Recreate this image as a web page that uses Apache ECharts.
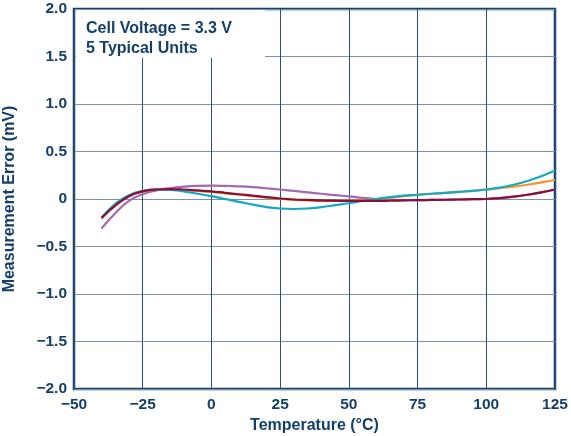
<!DOCTYPE html>
<html>
<head>
<meta charset="utf-8">
<script src="https://cdn.jsdelivr.net/npm/echarts@6/dist/echarts.min.js"></script>
<style>
  html, body { margin: 0; padding: 0; background: #fff; }
  #chart { width: 571px; height: 436px; }
</style>
</head>
<body>
<div id="chart"></div>
<script>
const temps = [-40, -35, -30, -25, -20, -15, -10, -5, 0, 5, 10, 15, 20, 25, 30, 35, 40, 45, 50, 55, 60, 65, 70, 75, 80, 85, 90, 95, 100, 105, 110, 115, 120, 125]

const unitPurple = [-0.31, -0.15, -0.02, 0.05, 0.09, 0.115, 0.13, 0.138, 0.14, 0.138, 0.133, 0.125, 0.113, 0.10, 0.085, 0.07, 0.055, 0.04, 0.028, 0.012, 0.0, -0.008, -0.012, -0.012, -0.01, -0.008, -0.005, -0.002, 0.0, 0.01, 0.025, 0.045, 0.07, 0.10]
const unitOrange = [-0.20, -0.07, 0.03, 0.08, 0.10, 0.10, 0.095, 0.085, 0.075, 0.06, 0.045, 0.03, 0.015, 0.0, -0.01, -0.015, -0.02, -0.02, -0.018, -0.012, 0.0, 0.015, 0.03, 0.045, 0.055, 0.065, 0.075, 0.085, 0.10, 0.115, 0.13, 0.15, 0.175, 0.20]
const unitCyan = [-0.20, -0.05, 0.04, 0.085, 0.10, 0.095, 0.08, 0.055, 0.03, 0.0, -0.03, -0.06, -0.085, -0.10, -0.105, -0.10, -0.085, -0.065, -0.045, -0.02, 0.0, 0.02, 0.035, 0.045, 0.055, 0.065, 0.075, 0.085, 0.10, 0.12, 0.15, 0.19, 0.24, 0.30]
const unitRed = [-0.20, -0.07, 0.03, 0.08, 0.10, 0.105, 0.10, 0.09, 0.08, 0.065, 0.05, 0.035, 0.02, 0.005, -0.005, -0.01, -0.015, -0.018, -0.02, -0.02, -0.02, -0.018, -0.015, -0.012, -0.01, -0.008, -0.005, -0.002, 0.0, 0.01, 0.025, 0.045, 0.07, 0.10]

const xTicks = [-50, -25, 0, 25, 50, 75, 100, 125]
const yTicks = [-2, -1.5, -1, -0.5, 0, 0.5, 1, 1.5, 2]
const noteLines = ['Cell Voltage = 3.3 V', '5 Typical Units']

const navy = '#143f6b'
const font = 'Liberation Sans, Arial, sans-serif'

function pairs(vals) {
  return temps.map((t, i) => [t, vals[i]])
}

function minus(s) {
  return String(s).replace('-', '\u2212')
}

function unit(name, vals, color) {
  return {
    name: name,
    type: 'line',
    data: pairs(vals),
    smooth: true,
    symbol: 'none',
    lineStyle: { color: color, width: 2.2 },
    itemStyle: { color: color }
  }
}

const chart = echarts.init(document.getElementById('chart'))

const option = {
  animation: false,
  backgroundColor: '#fff',
  grid: {
    left: 74, right: 16, top: 9, bottom: 47,
    outerBoundsMode: 'none',
    containLabel: false,
    show: true,
    backgroundColor: '#fff',
    borderColor: navy,
    borderWidth: 2.5
  },
  xAxis: {
    type: 'value',
    min: -50, max: 125, interval: 25,
    name: 'Temperature (°C)',
    nameLocation: 'middle',
    nameGap: 28,
    nameTextStyle: { color: navy, fontFamily: font, fontWeight: 'bold', fontSize: 16 },
    axisLine: { show: false },
    axisTick: { show: false },
    axisLabel: {
      color: navy, fontFamily: font, fontWeight: 'bold', fontSize: 15.5, margin: 8,
      formatter: v => xTicks.includes(v) ? minus(v) : ''
    },
    splitLine: { show: true, lineStyle: { color: '#2c5178', width: 1 } }
  },
  yAxis: {
    type: 'value',
    min: -2, max: 2, interval: 0.5,
    name: 'Measurement Error (mV)',
    nameLocation: 'middle',
    nameGap: 56,
    nameTextStyle: { color: navy, fontFamily: font, fontWeight: 'bold', fontSize: 16 },
    axisLine: { show: false },
    axisTick: { show: false },
    axisLabel: {
      color: navy, fontFamily: font, fontWeight: 'bold', fontSize: 15.5, margin: 7,
      formatter: v => yTicks.includes(v) ? minus(v === 0 ? '0' : v.toFixed(1)) : ''
    },
    splitLine: { show: true, lineStyle: { color: '#7893ad', width: 1 } }
  },
  graphic: [
    {
      type: 'rect',
      left: 76, top: 10,
      shape: { width: 189, height: 48 },
      style: { fill: '#fff' },
      z: 10
    },
    {
      type: 'text',
      left: 86, top: 19,
      style: {
        text: noteLines.join('\n'),
        fill: navy,
        font: 'bold 16px ' + font,
        lineHeight: 20
      },
      z: 11
    }
  ],
  series: [
    unit('Unit 1', unitPurple, '#a468b4'),
    unit('Unit 2', unitOrange, '#f5962a'),
    unit('Unit 3', unitCyan, '#12a9c2'),
    unit('Unit 4', unitRed, '#8a0f37')
  ]
}

chart.setOption(option)
window.addEventListener('resize', () => {
  chart.resize()
})
</script>
</body>
</html>
